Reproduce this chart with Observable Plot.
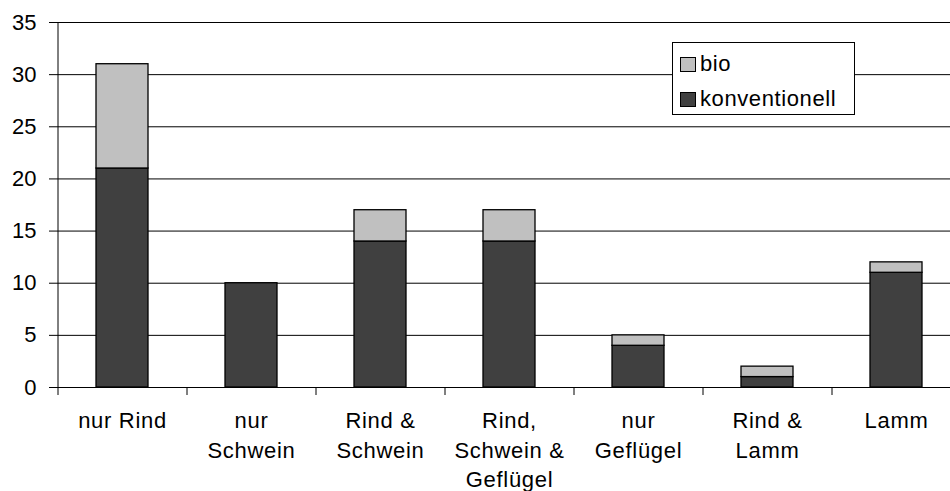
<!DOCTYPE html>
<html>
<head>
<meta charset="utf-8">
<script src="https://cdn.jsdelivr.net/npm/d3@7"></script>
<script src="https://cdn.jsdelivr.net/npm/@observablehq/plot@0.6"></script>
<style>
  body { margin: 0; background: #fff; }
  #chart { position: relative; width: 950px; height: 491px; font-family: "Liberation Sans", Arial, sans-serif; color: #000; overflow: hidden; }
  #chart svg { display: block; }
  .x-labels text { letter-spacing: 0.7px; }
  .legend { position: absolute; left: 672px; top: 42px; width: 183px; height: 73px; border: 1px solid #000; background: #fff; font-size: 22px; letter-spacing: 0.6px; box-sizing: border-box; }
  .legend .row { position: absolute; left: 7px; height: 24px; line-height: 24px; white-space: nowrap; }
  .legend .sw { display: inline-block; width: 16px; height: 15px; border: 1px solid #000; box-sizing: border-box; margin-right: 4px; vertical-align: -1px; }
</style>
</head>
<body>
<div id="chart"></div>
<script>
// Betriebe nach Tierart, gestapelt: konventionell unten, bio oben
const categories = ["nur Rind", "nur\nSchwein", "Rind &\nSchwein", "Rind,\nSchwein &\nGeflügel", "nur\nGeflügel", "Rind &\nLamm", "Lamm"];
const konventionell = [21, 10, 14, 14, 4, 1, 11];
const bio = [10, 0, 3, 3, 1, 1, 1];
const seriesNames = ["bio", "konventionell"];
const seriesColors = ["#c0c0c0", "#404040"];
const yTicks = [0, 5, 10, 15, 20, 25, 30, 35];

const rows = [
  ...categories.map((c, i) => ({category: c, series: "konventionell", value: konventionell[i]})),
  ...categories.map((c, i) => ({category: c, series: "bio", value: bio[i]}))
].filter(d => d.value > 0);

// Kategorienbreite: die letzte Kategorie ragt über den rechten Bildrand hinaus
const xRange = [57, 960];
const step = (xRange[1] - xRange[0]) / categories.length;

const chart = Plot.plot({
  width: 950,
  height: 491,
  marginLeft: 57,
  marginRight: 0,
  marginTop: 22,
  marginBottom: 104,
  style: {fontFamily: '"Liberation Sans", Arial, sans-serif', fontSize: "22px", color: "#000", background: "#fff", overflow: "visible"},
  x: {domain: categories, range: xRange, paddingInner: 0.6, paddingOuter: 0.3, label: null},
  y: {domain: [0, 35], label: null},
  color: {domain: seriesNames, range: seriesColors},
  marks: [
    Plot.gridY(yTicks, {stroke: "#000", strokeOpacity: 1, strokeWidth: 1}),
    Plot.barY(rows, {x: "category", y: "value", fill: "series", stroke: "#000", strokeWidth: 1.3}),
    Plot.ruleY([0], {stroke: "#000"}),
    Plot.ruleX([categories[0]], {dx: -step / 2, stroke: "#000"}),
    Plot.axisY(yTicks, {tickSize: 8, tickPadding: 13, label: null, fontSize: 22, stroke: "#000", fill: "#000"}),
    Plot.axisX({tickSize: 8, tickFormat: () => "", dx: -step / 2, label: null, stroke: "#000"}),
    Plot.axisX({tickSize: 0, tickPadding: 20, label: null, fontSize: 22, lineHeight: 1.33, fill: "#000", className: "x-labels"})
  ]
});

const root = document.getElementById("chart");
root.appendChild(chart);

// Legende
const legend = document.createElement("div");
legend.className = "legend";
seriesNames.forEach((name, i) => {
  const row = document.createElement("div");
  row.className = "row";
  row.style.top = (9 + i * 35) + "px";
  const sw = document.createElement("span");
  sw.className = "sw";
  sw.style.background = seriesColors[i];
  row.appendChild(sw);
  row.appendChild(document.createTextNode(name));
  legend.appendChild(row);
});
root.appendChild(legend);
</script>
</body>
</html>
